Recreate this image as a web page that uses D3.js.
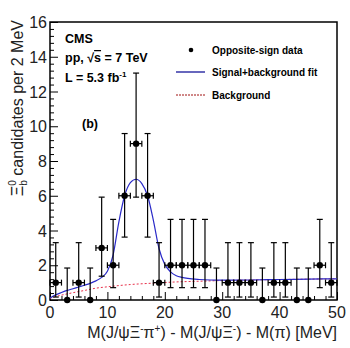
<!DOCTYPE html>
<html>
<head>
<meta charset="utf-8">
<script src="https://cdn.jsdelivr.net/npm/d3@7"></script>
<style>
  body { margin: 0; background: #fff; }
  text { font-family: "Liberation Sans", Arial, sans-serif; }
</style>
</head>
<body>
<svg id="chart" width="350" height="348"></svg>
<script>
// data
const binCenters = [1, 3, 5, 7, 9, 11, 13, 15, 17, 19, 21, 23, 25, 27, 29, 31, 33, 35, 37, 39, 41, 43, 45, 47, 49];
const counts     = [1, 0, 1, 0, 3, 2, 6, 9, 6, 1, 2, 2, 2, 2, 0, 1, 1, 1, 0, 1, 1, 0, 0, 2, 1];
// asymmetric error bar ends, by count
const errCounts = [0, 1, 2, 3, 6, 9];
const errLow    = [0, 0.17, 0.71, 1.37, 3.62, 5.92];
const errHigh   = [1.84, 3.30, 4.64, 5.92, 9.58, 13.06];

// signal+background fit curve
const fitX = [0, 1, 2, 3, 4, 5, 6, 7, 8, 9, 10, 11, 12, 13, 14, 15, 16, 17, 18, 19, 20, 21, 22, 23, 24, 26, 28, 30, 35, 40, 45, 50];
const fitY = [0.12, 0.3, 0.43, 0.55, 0.65, 0.75, 0.85, 0.96, 1.1, 1.3, 1.65, 2.6, 4.5, 6.0, 6.75, 6.95, 6.7, 6.0, 4.6, 2.95, 2.05, 1.62, 1.4, 1.3, 1.24, 1.18, 1.15, 1.14, 1.15, 1.18, 1.2, 1.22];
// background curve
const bgX = [0, 1, 2, 4, 6, 8, 10, 14, 18, 22, 26, 30, 35, 40, 45, 50];
const bgY = [0.1, 0.2, 0.28, 0.42, 0.55, 0.68, 0.76, 0.89, 0.97, 1.04, 1.08, 1.12, 1.15, 1.18, 1.2, 1.22];

const xTicks = [0, 10, 20, 30, 40, 50];
const yTicks = [0, 2, 4, 6, 8, 10, 12, 14, 16];

const legendLabels = ["Opposite-sign data", "Signal+background fit", "Background"];

const svg = d3.select("#chart");

const plot = { left: 50, right: 337, top: 22, bottom: 300 };

const x = d3.scaleLinear().domain([0, 50]).range([plot.left, plot.right]);
const y = d3.scaleLinear().domain([0, 16]).range([plot.bottom, plot.top]);

//Axes, ROOT style ticks pointing inside (5 minor divisions)
const yAxis = svg.append("g").attr("transform", `translate(${plot.left},0)`);
yAxis.call(d3.axisRight(y).tickValues(d3.range(0, 16.01, 0.4)).tickSize(4).tickFormat(""));
yAxis.selectAll(".tick").filter(d => Math.abs(d / 2 - Math.round(d / 2)) < 1e-6).select("line").attr("x2", 8);
yAxis.selectAll(".domain").remove();
yAxis.selectAll("line").attr("stroke", "#000");

const xAxis = svg.append("g").attr("transform", `translate(0,${plot.bottom})`);
xAxis.call(d3.axisTop(x).tickValues(d3.range(0, 51, 2)).tickSize(4).tickFormat(""));
xAxis.selectAll(".tick").filter(d => xTicks.indexOf(d) >= 0).select("line").attr("y2", -8);
xAxis.selectAll(".domain").remove();
xAxis.selectAll("line").attr("stroke", "#000");

// tick labels
svg.append("g").selectAll("text")
  .data(yTicks).enter().append("text")
  .attr("x", plot.left - 3)
  .attr("y", d => y(d) + 6)
  .attr("text-anchor", "end")
  .attr("font-size", 16)
  .attr("fill", "#222")
  .text(d => d);

svg.append("g").selectAll("text")
  .data(xTicks).enter().append("text")
  .attr("x", d => x(d))
  .attr("y", 318)
  .attr("text-anchor", "middle")
  .attr("font-size", 16)
  .attr("fill", "#222")
  .text(d => d);

// frame
svg.append("rect")
  .attr("x", plot.left).attr("y", plot.top)
  .attr("width", plot.right - plot.left).attr("height", plot.bottom - plot.top)
  .attr("fill", "none").attr("stroke", "#000").attr("stroke-width", 1.5);

// curves
const line = (xs, ys) => d3.line()
  .x((d, i) => x(xs[i]))
  .y((d, i) => y(ys[i]))
  .curve(d3.curveMonotoneX)(xs);

svg.append("path")
  .attr("d", line(bgX, bgY))
  .attr("fill", "none")
  .attr("stroke", "#e8304a")
  .attr("stroke-width", 1)
  .attr("stroke-dasharray", "2,2");

svg.append("path")
  .attr("d", line(fitX, fitY))
  .attr("fill", "none")
  .attr("stroke", "#2a2ac8")
  .attr("stroke-width", 1.2);

// data points with error bars
const pts = binCenters.map((c, i) => {
  const k = errCounts.indexOf(counts[i]);
  return { c: c, n: counts[i], lo: errLow[k], hi: errHigh[k] };
});

const g = svg.append("g").attr("stroke", "#000").attr("stroke-width", 1.2);
const cap = 3;
pts.forEach(p => {
  const cx = x(p.c), cy = y(p.n);
  g.append("line").attr("x1", cx).attr("x2", cx).attr("y1", y(p.lo)).attr("y2", y(p.hi));
  g.append("line").attr("x1", cx - cap).attr("x2", cx + cap).attr("y1", y(p.hi)).attr("y2", y(p.hi));
  if (p.lo > 0) {
    g.append("line").attr("x1", cx - cap).attr("x2", cx + cap).attr("y1", y(p.lo)).attr("y2", y(p.lo));
  }
  if (p.n > 0) {
    g.append("line").attr("x1", x(p.c - 1)).attr("x2", x(p.c + 1)).attr("y1", cy).attr("y2", cy);
    g.append("line").attr("x1", x(p.c - 1)).attr("x2", x(p.c - 1)).attr("y1", cy - cap).attr("y2", cy + cap);
    g.append("line").attr("x1", x(p.c + 1)).attr("x2", x(p.c + 1)).attr("y1", cy - cap).attr("y2", cy + cap);
  }
});
svg.append("g").selectAll("circle")
  .data(pts).enter().append("circle")
  .attr("cx", d => x(d.c))
  .attr("cy", d => y(d.n))
  .attr("r", 3.2)
  .attr("fill", "#000");

// labels inside the plot
const info = svg.append("g").attr("font-weight", "bold").attr("font-size", 12.5).attr("fill", "#000");
info.append("text").attr("x", 65).attr("y", 43).text("CMS");
const ppText = info.append("text").attr("x", 65).attr("y", 62);
ppText.append("tspan").text("pp, √");
ppText.append("tspan").style("text-decoration", "overline").text("s");
ppText.append("tspan").text(" = 7 TeV");
const lumi = info.append("text").attr("x", 65).attr("y", 82);
lumi.append("tspan").text("L = 5.3 fb");
lumi.append("tspan").attr("font-size", 8).attr("dy", -5).text("-1");
info.append("text").attr("x", 82).attr("y", 128).text("(b)");

// legend
const legend = svg.append("g").attr("font-weight", "bold").attr("font-size", 10);
const legendY = [50, 72, 95];
legend.append("circle").attr("cx", 191).attr("cy", legendY[0]).attr("r", 2.3).attr("fill", "#000");
legend.append("line").attr("x1", 176).attr("x2", 205).attr("y1", legendY[1]).attr("y2", legendY[1])
  .attr("stroke", "#000090").attr("stroke-width", 1.2);
legend.append("line").attr("x1", 176).attr("x2", 205).attr("y1", legendY[2]).attr("y2", legendY[2])
  .attr("stroke", "#a01010").attr("stroke-width", 1).attr("stroke-dasharray", "2,1");
legend.selectAll("text.lab")
  .data(legendLabels).enter().append("text")
  .attr("class", "lab")
  .attr("x", 212)
  .attr("y", (d, i) => legendY[i] + 3.5)
  .text(d => d);

// axis titles
const xt = svg.append("text")
  .attr("x", plot.right)
  .attr("y", 338)
  .attr("text-anchor", "end")
  .attr("font-size", 16)
  .attr("fill", "#222");
xt.append("tspan").text("M(J/ψΞ");
xt.append("tspan").attr("font-size", 10).attr("dy", -6).text("-");
xt.append("tspan").attr("dy", 6).text("π");
xt.append("tspan").attr("font-size", 10).attr("dy", -6).text("+");
xt.append("tspan").attr("dy", 6).text(") - M(J/ψΞ");
xt.append("tspan").attr("font-size", 10).attr("dy", -6).text("-");
xt.append("tspan").attr("dy", 6).text(") - M(π) [MeV]");

const yt = svg.append("text")
  .attr("transform", "translate(23,20) rotate(-90)")
  .attr("text-anchor", "end")
  .attr("font-size", 16)
  .attr("fill", "#222");
yt.append("tspan").text("Ξ");
yt.append("tspan").attr("font-size", 10).attr("dy", -7).text("0");
yt.append("tspan").attr("font-size", 10).attr("dx", -5.5).attr("dy", 11).text("b");
yt.append("tspan").attr("dy", -4).text(" candidates per 2 MeV");
</script>
</body>
</html>
